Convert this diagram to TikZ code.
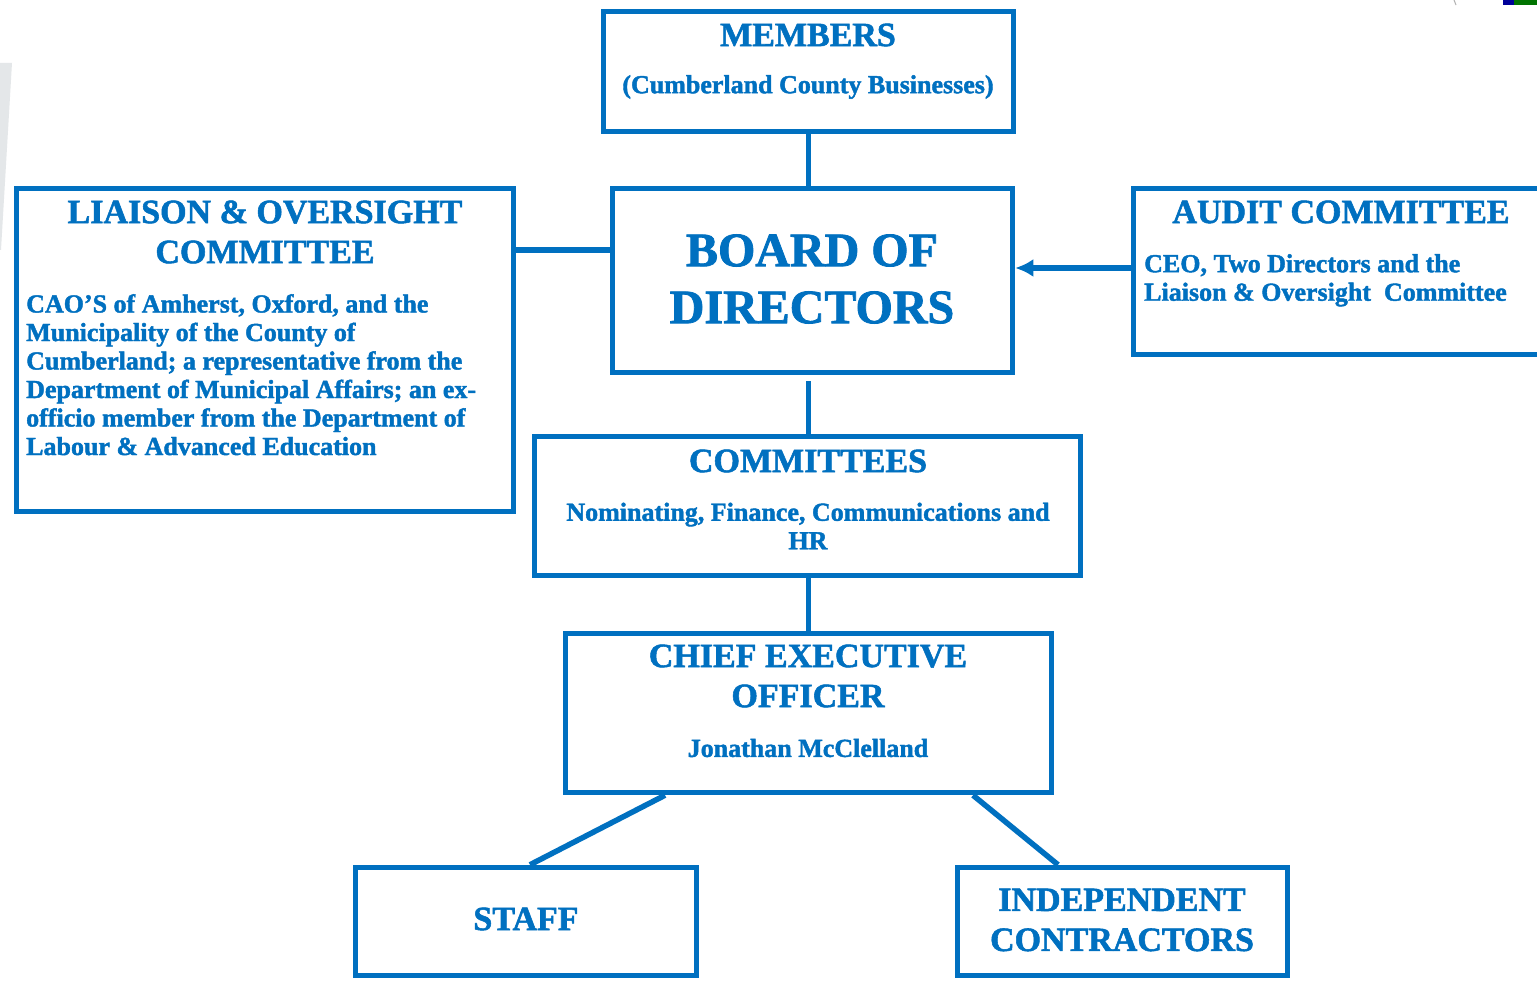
\documentclass[tikz,border=0pt]{standalone}
\usepackage{fontspec}
\setmainfont{Liberation Serif}[BoldFeatures={FakeBold=1.6}]
\usetikzlibrary{arrows.meta,positioning}
\definecolor{orgblue}{HTML}{0070C0}
\definecolor{slidegray}{HTML}{E4E7E9}
\tikzset{
  box/.style={draw=orgblue, line width=5.5pt, rectangle, inner sep=0pt},
  conn/.style={draw=orgblue, line width=5.5pt},
  head/.style={text=orgblue, font=\bfseries\fontsize{34}{40}\selectfont, align=center, inner sep=0pt},
  big/.style={text=orgblue, font=\bfseries\fontsize{48}{57}\selectfont, align=center, inner sep=0pt},
  body/.style={text=orgblue, font=\bfseries\fontsize{26}{28.5}\selectfont, inner sep=0pt},
}
\begin{document}
\begin{tikzpicture}[x=1pt,y=-1pt]
\useasboundingbox (0,0) rectangle (1537,981);
\clip (0,0) rectangle (1537,981);
\fill[white] (0,0) rectangle (1537,981);
% slide background remnants
\fill[slidegray] (0,63) -- (12,63) -- (1,250) -- (0,250) -- cycle;
\fill[blue!60!black] (1503,0) rectangle (1514,5);
\fill[green!45!black] (1514,0) rectangle (1537,5);
\draw[gray!60, line width=1pt] (1454,0) -- (1456,5);

% boxes
\node[box, minimum width=410pt, minimum height=120pt] (members) at (808.5,71.5) {};
\node[box, minimum width=400pt, minimum height=184pt] (board) at (812.5,280.5) {};
\node[box, minimum width=497pt, minimum height=323pt] (liaison) at (265,350) {};
\node[box, minimum width=411.5pt, minimum height=166pt] (audit) at (1339.25,271.5) {};
\node[box, minimum width=546pt, minimum height=139pt] (committees) at (807.5,506) {};
\node[box, minimum width=486pt, minimum height=159pt] (ceo) at (808.5,713) {};
\node[box, minimum width=341pt, minimum height=108pt] (staff) at (526,921.5) {};
\node[box, minimum width=330pt, minimum height=108pt] (indep) at (1122.5,921.5) {};

% texts
\node[head] (tmembers) at (808,35) {MEMBERS};
\node[body] (tmemsub) at (808,87) {(Cumberland County Businesses)};
\node[big] (tboard) at (812,279) {BOARD OF\\DIRECTORS};
\node[head] (tliaison) at (265,232) {LIAISON \& OVERSIGHT\\COMMITTEE};
\node[body, align=left, anchor=north west] (tliaisonbody) at (26,294)
  {CAO’S of Amherst, Oxford, and the\\Municipality of the County of\\Cumberland; a representative from the\\Department of Municipal Affairs; an ex-\\officio member from the Department of\\Labour \& Advanced Education};
\node[head] (taudit) at (1341,212) {AUDIT COMMITTEE};
\node[body, align=left, anchor=north west] (tauditbody) at (1144,254)
  {CEO, Two Directors and the\\Liaison \& Oversight\ \ Committee};
\node[head] (tcomm) at (808,461) {COMMITTEES};
\node[body, align=center] (tcommsub) at (808,526) {Nominating, Finance, Communications and\\HR};
\node[head] (tceo) at (808,676) {CHIEF EXECUTIVE\\OFFICER};
\node[body] (tceoname) at (808,748) {Jonathan McClelland};
\node[head] (tstaff) at (526,919) {STAFF};
\node[head] (tindep) at (1122,920) {INDEPENDENT\\CONTRACTORS};

% connectors
\coordinate (ylb) at (0,250);
\coordinate (yab) at (0,268);
\draw[conn] (members.south) -- (members.south |- board.north);
\draw[conn] (liaison.east |- ylb) -- (board.west |- ylb);
\draw[conn, -{Latex[length=18pt,width=18pt]}] (audit.west |- yab) -- (board.east |- yab);
\draw[conn] ([yshift=-6pt]board.south -| members.south) -- (committees.north -| members.south);
\draw[conn] (committees.south -| members.south) -- (ceo.north -| members.south);
\draw[conn] ([xshift=-143.5pt]ceo.south) -- ([xshift=4pt]staff.north);
\draw[conn] ([xshift=164.5pt]ceo.south) -- ([xshift=-64.5pt]indep.north);
\end{tikzpicture}
\end{document}
